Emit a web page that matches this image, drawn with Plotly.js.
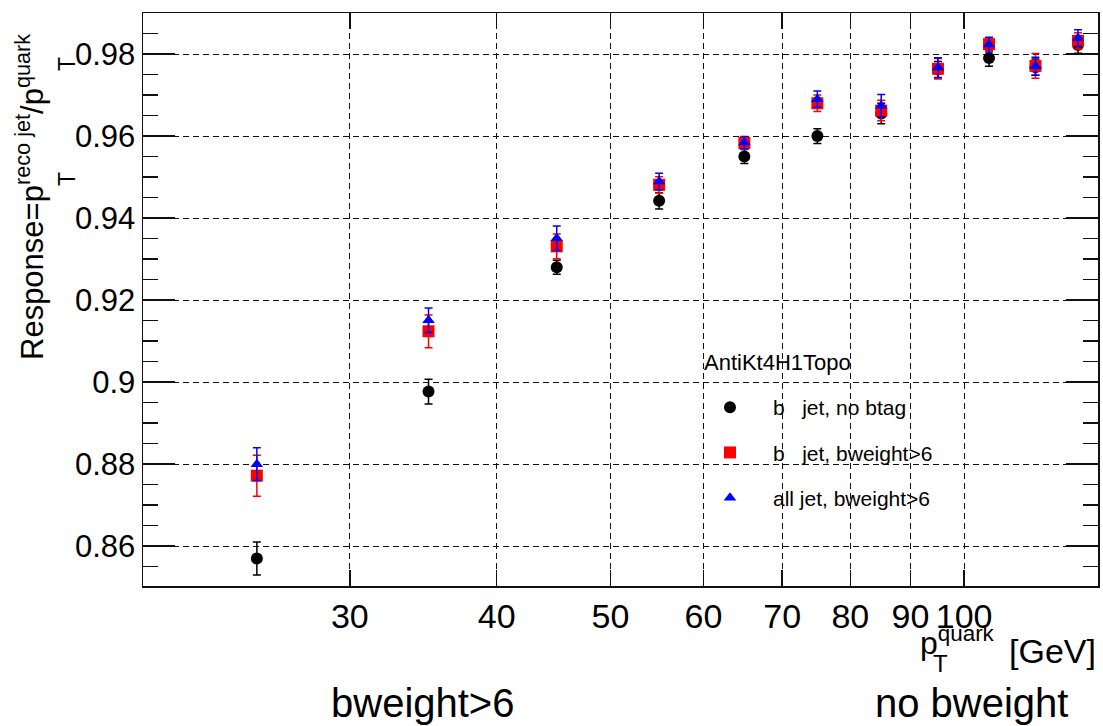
<!DOCTYPE html>
<html>
<head>
<meta charset="utf-8">
<script src="https://cdn.plot.ly/plotly-3.0.1.min.js"></script>
<style>html,body{margin:0;padding:0;background:#fff;}#chart{width:1103px;height:726px;}</style>
</head>
<body>
<div id="chart"></div>
<script>
// ---- data ----
const ptQuark = [25, 35, 45, 55, 65, 75, 85, 95, 105, 115, 125];

const bNoBtag    = [0.857, 0.8977, 0.928, 0.9442, 0.955, 0.960, 0.9655, 0.9762, 0.979, 0.9768, 0.9822];
const bNoBtagErr = [0.004, 0.003, 0.0017, 0.002, 0.0017, 0.0018, 0.0025, 0.002, 0.002, 0.002, 0.002];

const bBw6    = [0.8772, 0.9124, 0.9331, 0.9481, 0.9583, 0.968, 0.9662, 0.9764, 0.9824, 0.9771, 0.9832];
const bBw6Err = [0.005, 0.004, 0.003, 0.002, 0.0015, 0.002, 0.0025, 0.0025, 0.0015, 0.003, 0.002];

const allBw6    = [0.880, 0.9151, 0.9351, 0.9489, 0.9584, 0.969, 0.9674, 0.9767, 0.9823, 0.977, 0.9839];
const allBw6Err = [0.004, 0.003, 0.003, 0.002, 0.0015, 0.002, 0.0027, 0.0024, 0.0018, 0.0022, 0.002];

const seriesNames = ["b\u00a0\u00a0\u00a0jet, no btag", "b\u00a0\u00a0\u00a0jet, bweight>6", "all jet, bweight>6"];
const xTickVals = [30, 40, 50, 60, 70, 80, 90, 100];
const xTickText = ["30", "40", "50", "60", "70", "80", "90", "100"];
const yTickVals = [0.86, 0.88, 0.90, 0.92, 0.94, 0.96, 0.98];
const yTickText = ["0.86", "0.88", "0.9", "0.92", "0.94", "0.96", "0.98"];
const legendHeader = "AntiKt4H1Topo";
const bottomLeftText = "bweight>6";
const bottomRightText = "no bweight";

// ---- layout helpers ----
const FONT = '"Liberation Sans", Arial, Helvetica, sans-serif';
const L = 143, R = 1098, T = 13, B = 586;
const px = x => (x - L) / (R - L);
const py = y => (B - y) / (B - T);

function mk(name, y, err, color, symbol, size, group) {
  return {
    type: 'scatter', mode: 'markers', name: name, x: ptQuark, y: y,
    legendgroup: group,
    marker: {color: color, symbol: symbol, size: size, line: {width: 0}},
    error_y: {type: 'data', array: err, visible: true, color: color, thickness: 1.5, width: 4},
    cliponaxis: false
  };
}

const data = [
  mk(seriesNames[0], bNoBtag, bNoBtagErr, '#000000', 'circle', 12, 'g1'),
  mk(seriesNames[1], bBw6, bBw6Err, '#ff0000', 'square', 12, 'g2'),
  mk(seriesNames[2], allBw6, allBw6Err, '#0000ff', 'triangle-up', 11, 'g3')
];

const axisCommon = {
  showline: true, linecolor: '#111', linewidth: 1.5, mirror: 'ticks',
  ticks: 'inside', tickcolor: '#111', tickwidth: 1.5,
  showgrid: true, gridcolor: '#111', gridwidth: 1, griddash: '6px,4px',
  zeroline: false
};

const layout = {
  width: 1103, height: 726,
  margin: {l: L, r: 1103 - R, t: T, b: 726 - B, pad: 0},
  paper_bgcolor: '#fff', plot_bgcolor: '#fff',
  font: {family: FONT, color: '#000'},
  showlegend: true,
  legend: {
    x: px(687), y: py(387), xanchor: 'left', yanchor: 'top',
    bgcolor: 'rgba(0,0,0,0)', borderwidth: 0,
    font: {family: FONT, size: 21, color: '#000'},
    itemwidth: 76, tracegroupgap: 15, traceorder: 'grouped'
  },
  xaxis: Object.assign({}, axisCommon, {
    type: 'log', range: [Math.log10(20), Math.log10(130)],
    tickmode: 'array', tickvals: xTickVals, ticktext: xTickText,
    ticklen: 16,
    tickfont: {family: FONT, size: 34, color: '#000'}
  }),
  yaxis: Object.assign({}, axisCommon, {
    range: [0.8503, 0.990],
    tickmode: 'array', tickvals: yTickVals, ticktext: yTickText,
    ticklen: 32,
    tickfont: {family: FONT, size: 31, color: '#000'},
    minor: {tickmode: 'linear', tick0: 0.85, dtick: 0.005, ticks: 'inside', ticklen: 15,
            tickcolor: '#111', tickwidth: 1.5, showgrid: false}
  }),
  annotations: [
    // y-axis title
    {xref: 'paper', yref: 'paper', x: px(30), y: py(362), xanchor: 'center', yanchor: 'bottom',
     textangle: -90, showarrow: false,
     text: 'Response=p<sup>reco jet</sup>/p<sup>quark</sup>',
     font: {family: FONT, size: 31, color: '#000'}},
    {xref: 'paper', yref: 'paper', x: px(67), y: py(179), xanchor: 'center', yanchor: 'middle',
     textangle: -90, showarrow: false, text: 'T', font: {family: FONT, size: 23, color: '#000'}},
    {xref: 'paper', yref: 'paper', x: px(67), y: py(64), xanchor: 'center', yanchor: 'middle',
     textangle: -90, showarrow: false, text: 'T', font: {family: FONT, size: 23, color: '#000'}},
    // x-axis title
    {xref: 'paper', yref: 'paper', x: px(997), y: py(641), xanchor: 'right', yanchor: 'middle',
     showarrow: false, text: 'p<sup>quark</sup>', font: {family: FONT, size: 32, color: '#000'}},
    {xref: 'paper', yref: 'paper', x: px(940), y: py(663), xanchor: 'center', yanchor: 'middle',
     showarrow: false, text: 'T', font: {family: FONT, size: 24, color: '#000'}},
    {xref: 'paper', yref: 'paper', x: px(1098), y: py(651), xanchor: 'right', yanchor: 'middle',
     showarrow: false, text: '[GeV]', font: {family: FONT, size: 34, color: '#000'}},
    // legend header
    {xref: 'paper', yref: 'paper', x: px(702), y: py(362), xanchor: 'left', yanchor: 'middle',
     showarrow: false, text: legendHeader, font: {family: FONT, size: 22, color: '#000'}},
    // bottom labels
    {xref: 'paper', yref: 'paper', x: px(422), y: py(703), xanchor: 'center', yanchor: 'middle',
     showarrow: false, text: bottomLeftText, font: {family: FONT, size: 40, color: '#000'}},
    {xref: 'paper', yref: 'paper', x: px(971), y: py(703), xanchor: 'center', yanchor: 'middle',
     showarrow: false, text: bottomRightText, font: {family: FONT, size: 40, color: '#000'}}
  ]
};

Plotly.newPlot('chart', data, layout, {staticPlot: true, displayModeBar: false});
</script>
</body>
</html>
